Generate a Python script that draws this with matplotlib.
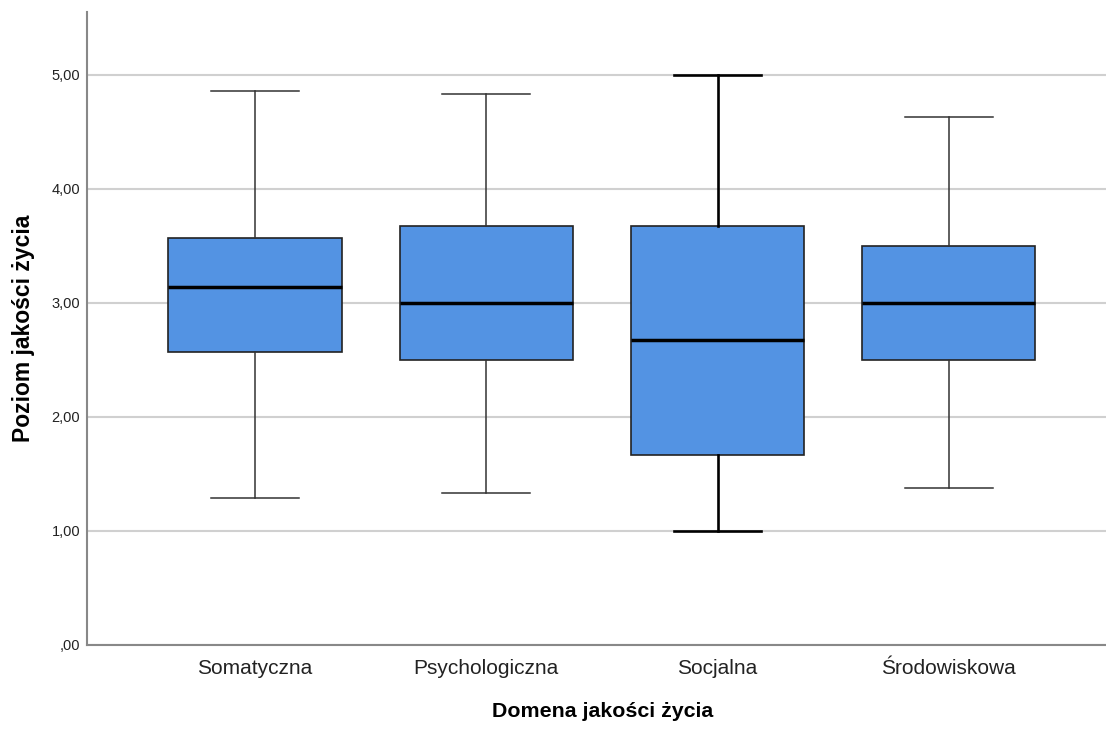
import matplotlib.pyplot as plt

domains = ['Somatyczna', 'Psychologiczna', 'Socjalna', 'Środowiskowa']
whisker_low = [1.29, 1.33, 1.00, 1.38]
q1 = [2.57, 2.50, 1.67, 2.50]
median = [3.14, 3.00, 2.67, 3.00]
q3 = [3.57, 3.67, 3.67, 3.50]
whisker_high = [4.86, 4.83, 5.00, 4.63]

yticks = [0, 1, 2, 3, 4, 5]
ytick_labels = [',00', '1,00', '2,00', '3,00', '4,00', '5,00']

plt.rcParams['font.family'] = ['Liberation Sans', 'DejaVu Sans']

fig = plt.figure(figsize=(11.06, 7.31), dpi=100)
ax = fig.add_axes([87 / 1106, 86 / 731, 1 - 87 / 1106, 633 / 731])

stats = []
for i, name in enumerate(domains):
    stats.append({'label': name, 'whislo': whisker_low[i], 'q1': q1[i],
                  'med': median[i], 'q3': q3[i], 'whishi': whisker_high[i]})

parts = ax.bxp(stats, positions=range(1, 5), widths=0.75, patch_artist=True,
               showfliers=False,
               boxprops=dict(facecolor='#5393e3', edgecolor='#222222', linewidth=1.2),
               medianprops=dict(color='black', linewidth=2.5),
               whiskerprops=dict(color='#333333', linewidth=1.1),
               capprops=dict(color='#333333', linewidth=1.1),
               capwidths=0.38, zorder=3)

# the social domain whiskers are drawn heavier
for line in parts['whiskers'][4:6] + parts['caps'][4:6]:
    line.set_color('black')
    line.set_linewidth(1.9)

ax.set_xlim(0.273, 4.68)
ax.set_ylim(0, 5.55)
ax.set_yticks(yticks)
ax.set_yticklabels(ytick_labels)
ax.yaxis.grid(True, color='#d0d0d0', linewidth=1.5, zorder=0)
ax.set_axisbelow(True)

for side in ['top', 'right']:
    ax.spines[side].set_visible(False)
for side in ['left', 'bottom']:
    ax.spines[side].set_color('#888888')
    ax.spines[side].set_linewidth(1.5)

ax.tick_params(axis='both', length=0)
ax.tick_params(axis='y', labelsize=10.5, pad=5, labelcolor='#222222')
ax.tick_params(axis='x', labelsize=15, pad=10, labelcolor='#222222')

ax.set_xlabel('Domena jakości życia', fontsize=15.4, fontweight='bold', labelpad=17)
ax.xaxis.set_label_coords(0.506, -0.09)
ax.set_ylabel('Poziom jakości życia', fontsize=16.5, fontweight='bold', labelpad=12)

fig.savefig('out.png', dpi=100)
